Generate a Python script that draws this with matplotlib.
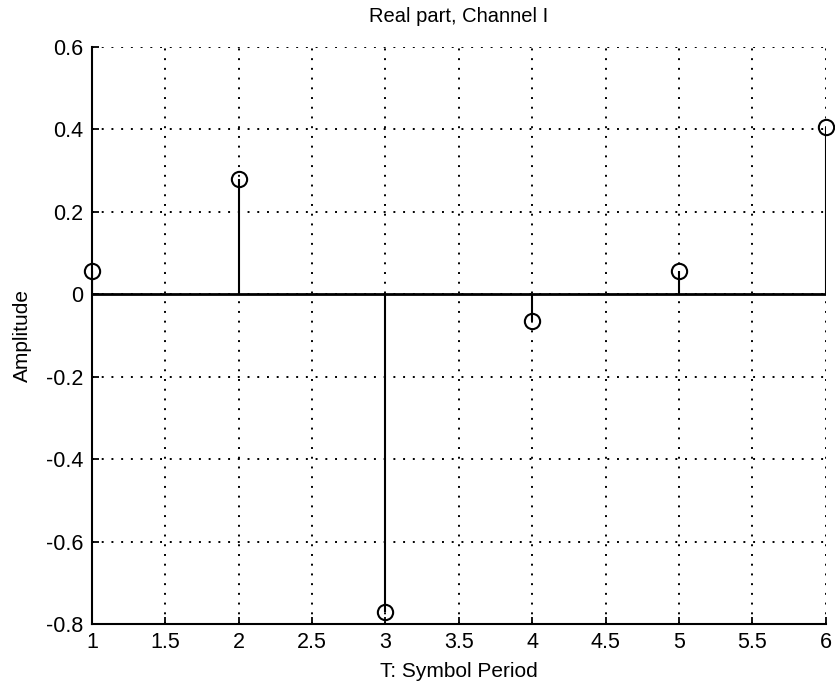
import matplotlib.pyplot as plt
import numpy as np

# symbol index and real-part amplitude of channel I
symbols = [1, 2, 3, 4, 5, 6]
amplitude = [0.055, 0.28, -0.772, -0.066, 0.057, 0.405]

x_ticks = np.arange(1, 6.01, 0.5)
y_ticks = np.round(np.arange(-0.8, 0.61, 0.2), 1)

plt.rcParams['font.family'] = ['Liberation Sans', 'DejaVu Sans']

fig = plt.figure(figsize=(8.35, 6.88), dpi=100)
ax = fig.add_axes([0.110, 0.093, 0.879, 0.839])

# stem plot, matlab style
markers, stems, base = ax.stem(symbols, amplitude, basefmt='k-')
plt.setp(stems, color='black', linewidth=1.5)
plt.setp(markers, marker='o', markersize=11, markerfacecolor='none',
         markeredgecolor='black', markeredgewidth=1.5, clip_on=False)
plt.setp(base, color='black', linewidth=2)

ax.set_xlim(1, 6)
ax.set_ylim(-0.8, 0.6)
ax.set_xticks(x_ticks)
ax.set_yticks(y_ticks)
ax.set_xticklabels(['%g' % t for t in x_ticks])
ax.set_yticklabels(['%g' % (0.0 if t == 0 else t) for t in y_ticks])

ax.grid(True, color='black', linestyle=(0, (1, 4)), linewidth=1.4)
ax.set_axisbelow(True)
ax.spines['top'].set_visible(False)
ax.spines['right'].set_visible(False)
ax.spines['left'].set_linewidth(1.5)
ax.spines['bottom'].set_linewidth(1.5)
ax.tick_params(direction='in', length=5, width=1.3, labelsize=15.5, pad=6)

ax.set_title('Real part, Channel I', fontsize=14.5, pad=18)
ax.set_xlabel('T: Symbol Period', fontsize=15, labelpad=6)
ax.set_ylabel('Amplitude', fontsize=15, labelpad=10)

fig.savefig('out.png', dpi=100)
